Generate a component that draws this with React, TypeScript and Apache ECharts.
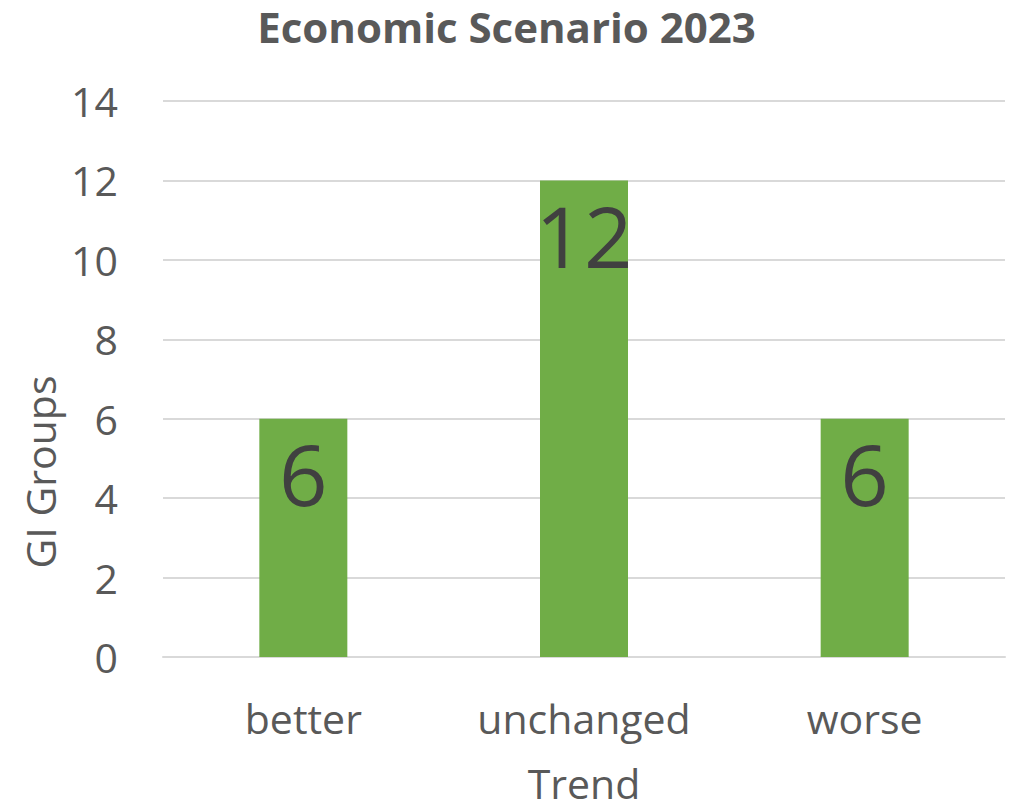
import React, { useEffect, useRef } from "react";
import * as echarts from "echarts";

const categories = ["better", "unchanged", "worse"];
const values = [6, 12, 6];
const yTicks = { min: 0, max: 14, interval: 2 };
const titleText = "Economic Scenario 2023";
const xName = "Trend";
const yName = "GI Groups";

export default function App() {
  const ref = useRef<HTMLDivElement>(null);
  useEffect(() => {
    const chart = echarts.init(ref.current!, null, { renderer: "svg" });
    const font = "Open Sans";
    chart.setOption({
      animation: false,
      title: {
        text: titleText,
        left: "center",
        top: 8,
        padding: 0,
        textStyle: { fontFamily: font, fontSize: 42, lineHeight: 36, fontWeight: "bold", color: "#595959" },
      },
      grid: { left: 163, right: 8, top: 101, bottom: 147, outerBoundsMode: "none", containLabel: false },
      xAxis: {
        type: "category",
        data: categories,
        name: xName,
        nameLocation: "middle",
        nameGap: 109,
        nameTextStyle: { fontFamily: font, fontSize: 41, lineHeight: 34, color: "#595959" },
        axisLine: { lineStyle: { color: "#d9d9d9", width: 2 } },
        axisTick: { show: false },
        axisLabel: { fontFamily: font, fontSize: 41, color: "#595959", margin: 40 },
      },
      yAxis: {
        type: "value",
        min: yTicks.min,
        max: yTicks.max,
        interval: yTicks.interval,
        name: yName,
        nameLocation: "middle",
        nameGap: 103,
        nameTextStyle: { fontFamily: font, fontSize: 41, color: "#595959", padding: [0, 186, 0, 0] },
        axisLine: { show: false },
        axisTick: { show: false },
        axisLabel: { fontFamily: font, fontSize: 41, color: "#595959", margin: 45 },
        splitLine: { lineStyle: { color: "#d9d9d9", width: 2 } },
      },
      series: [
        {
          type: "bar",
          data: values,
          barWidth: 88,
          itemStyle: { color: "#70ad47" },
          label: {
            show: true,
            position: "insideTop",
            distance: 12,
            fontFamily: font,
            fontSize: 85,
            color: "#404040",
          },
        },
      ],
    });
    return () => chart.dispose();
  }, []);
  return (
    <div
      ref={ref}
      style={{ position: "absolute", left: 0, top: 0, width: 1013, height: 804 }}
    />
  );
}
